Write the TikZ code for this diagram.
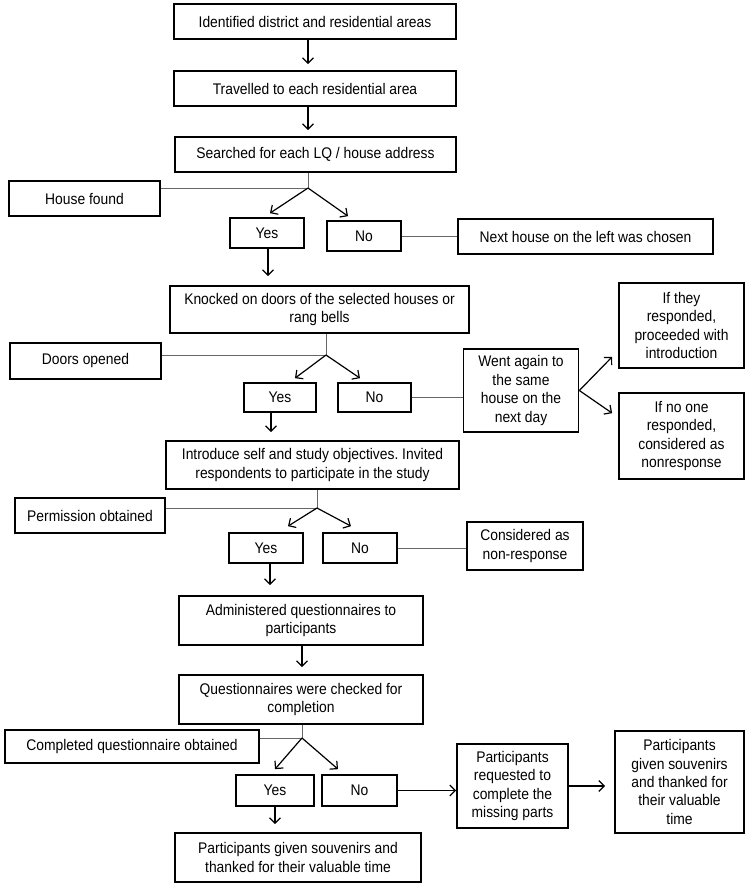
\documentclass[tikz,border=0pt]{standalone}
\usepackage{fontspec}
\setmainfont{Liberation Sans}[FakeStretch=0.9]
\usetikzlibrary{arrows.meta}
\frenchspacing

\begin{document}
\begin{tikzpicture}[x=1pt, y=-1pt, >={Straight Barb[length=5.5pt,width=11pt]},
  box/.style={draw, line width=1.7pt, align=center, inner sep=0pt},
  ans/.style={box, minimum width=74, minimum height=30},
  link/.style={draw=black!60, line width=1pt},
  flow/.style={->, line width=1.2pt}]
\tikzstyle{every node}=[font=\fontsize{15.4}{18.4}\selectfont]
\useasboundingbox (0,0) rectangle (749,887);

% Steps 1-3
\node[box, minimum width=282, minimum height=35] (s1) at (315,21.5) {Identified district and residential areas};
\node[box, minimum width=282, minimum height=35] (s2) at (315,88.5) {Travelled to each residential area};
\node[box, minimum width=281, minimum height=35] (s3) at (315.5,154.5) {Searched for each LQ / house address};
\draw[flow, shorten >=6pt] ([xshift=-7]s1.south) -- ([xshift=-7]s2.north);
\draw[flow, shorten >=6pt] ([xshift=-7]s2.south) -- ([xshift=-7.5]s3.north);

% House found?
\coordinate (j1) at (308,188);
\draw[link] ([xshift=-7.5]s3.south) -- (j1);
\node[box, minimum width=151, minimum height=35] (d1) at (84.5,198.5) {House found};
\draw[link] (d1.east |- j1) -- (j1);
\node[ans] (y1) at (267,233) {Yes};
\node[ans] (n1) at (364,236) {No};
\draw[flow] (j1) -- ([shift={(3,-4)}]y1.north);
\draw[flow] (j1) -- ([shift={(-16,-4)}]n1.north);
\node[box, minimum width=255, minimum height=35] (x1) at (585.5,236.5) {Next house on the left was chosen};
\draw[link] (n1.east) -- (n1.east -| x1.west);

% Step 4
\node[box, minimum width=299, minimum height=47] (s4) at (319.5,309.5) {Knocked on doors of the selected houses or\\rang bells};
\draw[flow, shorten >=9pt] ([xshift=1]y1.south) -- ([xshift=1]y1.south |- s4.north);

% Doors opened?
\coordinate (j2) at (326,355);
\draw[link] ([xshift=6.5]s4.south) -- (j2);
\node[box, minimum width=151, minimum height=36] (d2) at (85.5,361) {Doors opened};
\draw[link] (d2.east |- j2) -- (j2);
\node[ans, minimum width=72, minimum height=29] (y2) at (280,397.5) {Yes};
\node[ans, minimum width=73, minimum height=29] (n2) at (374.5,397.5) {No};
\draw[flow] (j2) -- ([shift={(15,-4)}]y2.north);
\draw[flow] (j2) -- ([shift={(-14.5,-4)}]n2.north);
\node[box, minimum width=115, minimum height=83] (w1) at (521,390.5) {Went again to\\the same\\house on the\\next day};
\draw[link] (n2.east) -- (n2.east -| w1.west);
\node[box, minimum width=125, minimum height=85] (i1) at (681.5,325.5) {If they\\responded,\\proceeded with\\introduction};
\node[box, minimum width=125, minimum height=86] (i2) at (681.5,436) {If no one\\responded,\\considered as\\nonresponse};
\draw[flow] (w1.east) -- ([shift={(-6,-12)}]i1.south west);
\draw[flow] (w1.east) -- ([shift={(-6,21)}]i2.north west);

% Step 5
\node[box, minimum width=293, minimum height=48] (s5) at (312.5,465) {Introduce self and study objectives. Invited\\respondents to participate in the study};
\draw[flow, shorten >=8pt] ([xshift=-9]y2.south) -- ([xshift=-9]y2.south |- s5.north);

% Permission obtained?
\coordinate (j3) at (317,508);
\draw[link] ([xshift=4.5]s5.south) -- (j3);
\node[box, minimum width=150, minimum height=35] (d3) at (90,515.5) {Permission obtained};
\draw[link] (d3.east |- j3) -- (j3);
\node[ans] (y3) at (266,548) {Yes};
\node[ans] (n3) at (360,548) {No};
\draw[flow] (j3) -- ([shift={(22,-6)}]y3.north);
\draw[flow] (j3) -- ([shift={(-9,-6)}]n3.north);
\node[box, minimum width=116, minimum height=48] (c3) at (525,546) {Considered as\\non-response};
\draw[link] (n3.east) -- (n3.east -| c3.west);

% Steps 6-7
\node[box, minimum width=244, minimum height=49] (s6) at (301,620.5) {Administered questionnaires to\\participants};
\draw[flow, shorten >=10pt] ([xshift=4]y3.south) -- ([xshift=4]y3.south |- s6.north);
\node[box, minimum width=244, minimum height=49] (s7) at (301,699.5) {Questionnaires were checked for\\completion};
\draw[flow, shorten >=7pt] ([xshift=1]s6.south) -- ([xshift=1]s7.north);

% Completed questionnaire obtained?
\coordinate (j4) at (302,738);
\draw[link] ([xshift=1]s7.south) -- (j4);
\node[box, minimum width=254, minimum height=33] (d4) at (132,746.5) {Completed questionnaire obtained};
\draw[link] (d4.east |- j4) -- (j4);
\node[ans, minimum width=78, minimum height=31] (y4) at (275,790.5) {Yes};
\node[ans, minimum width=75, minimum height=31] (n4) at (359.5,790.5) {No};
\draw[flow] (j4) -- ([shift={(0,-5)}]y4.north);
\draw[flow] (j4) -- ([shift={(-21.5,-5)}]n4.north);
\node[box, minimum width=111, minimum height=84] (p1) at (512.5,786) {Participants\\requested to\\complete the\\missing parts};
\node[box, minimum width=129, minimum height=102] (p2) at (679.5,782) {Participants\\given souvenirs\\and thanked for\\their valuable\\time};
\draw[flow] (n4.east) -- (n4.east -| p1.west);
\draw[flow, shorten >=9pt] (p1.east) -- (p1.east -| p2.west);

% Step 8
\node[box, minimum width=246, minimum height=49] (s8) at (298,857.5) {Participants given souvenirs and\\thanked for their valuable time};
\draw[flow, shorten >=8pt] (y4.south) -- (y4.south |- s8.north);
\end{tikzpicture}
\end{document}
